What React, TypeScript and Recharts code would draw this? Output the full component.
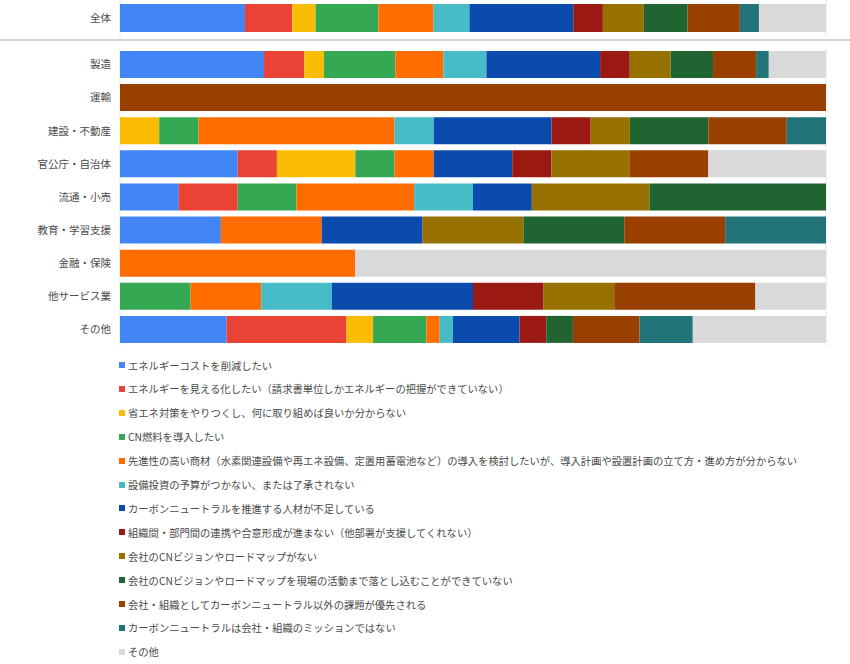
import { BarChart, Bar, XAxis, YAxis, CartesianGrid } from 'recharts'

const categories = [
  '全体',
  '製造',
  '運輸',
  '建設・不動産',
  '官公庁・自治体',
  '流通・小売',
  '教育・学習支援',
  '金融・保険',
  '他サービス業',
  'その他',
]

const seriesNames = [
  'エネルギーコストを削減したい',
  'エネルギーを見える化したい（請求書単位しかエネルギーの把握ができていない）',
  '省エネ対策をやりつくし、何に取り組めば良いか分からない',
  'CN燃料を導入したい',
  '先進性の高い商材（水素関連設備や再エネ設備、定置用蓄電池など）の導入を検討したいが、導入計画や設置計画の立て方・進め方が分からない',
  '設備投資の予算がつかない、または了承されない',
  'カーボンニュートラルを推進する人材が不足している',
  '組織間・部門間の連携や合意形成が進まない（他部署が支援してくれない）',
  '会社のCNビジョンやロードマップがない',
  '会社のCNビジョンやロードマップを現場の活動まで落とし込むことができていない',
  '会社・組織としてカーボンニュートラル以外の課題が優先される',
  'カーボンニュートラルは会社・組織のミッションではない',
  'その他',
]

const colors = [
  '#4285f4', '#ea4335', '#fbbc04', '#34a853', '#ff6d01', '#46bdc6',
  '#0b4bae', '#9a1a13', '#977100', '#1f6431', '#993f00', '#237479', '#d9d9d9',
]

// one array per series, rows in category order
const costCut = [17.7, 20.4, 0, 0, 3, 1, 1, 0, 0, 8]
const visualize = [6.7, 5.7, 0, 0, 1, 1, 0, 0, 0, 9]
const doneAll = [3.3, 2.8, 0, 1, 2, 0, 0, 0, 0, 2]
const cnFuel = [8.9, 10.1, 0, 1, 1, 1, 0, 0, 1, 4]
const advanced = [7.8, 6.8, 0, 5, 1, 2, 1, 1, 1, 1]
const budget = [5.1, 6.1, 0, 1, 0, 1, 0, 0, 1, 1]
const staff = [14.7, 16.1, 0, 3, 2, 1, 1, 0, 2, 5]
const coordination = [4.2, 4.2, 0, 1, 1, 0, 0, 0, 1, 2]
const noVision = [5.8, 5.8, 0, 1, 2, 2, 1, 0, 1, 0]
const noDeploy = [6.2, 6.0, 0, 2, 0, 3, 1, 0, 0, 2]
const otherPriority = [7.4, 6.1, 1, 2, 2, 0, 1, 0, 2, 5]
const notMission = [2.7, 1.8, 0, 1, 0, 0, 1, 0, 0, 4]
const others = [9.5, 8.1, 0, 0, 3, 0, 0, 2, 1, 10]

const seriesValues = [
  costCut, visualize, doneAll, cnFuel, advanced, budget, staff,
  coordination, noVision, noDeploy, otherPriority, notMission, others,
]

const gridTicks = [0, 0.1, 0.2, 0.3, 0.4, 0.5, 0.6, 0.7, 0.8, 0.9, 1]

const rows = categories.map((name, i) => {
  const row: Record<string, string | number> = { name }
  seriesValues.forEach((vals, s) => {
    row['s' + s] = vals[i]
  })
  return row
})

const FONT = '"Noto Sans CJK JP", "Noto Sans", sans-serif'
const textColor = '#4a4a4a'

function StackChart({ data, height, barSize }: { data: Record<string, string | number>[]; height: number; barSize: number }) {
  return (
    <BarChart
      width={850}
      height={height}
      data={data}
      layout="vertical"
      stackOffset="expand"
      margin={{ top: 0, right: 24, bottom: 0, left: 0 }}
      barCategoryGap={0}
    >
      <CartesianGrid horizontal={false} stroke="#e6e6e6" />
      <XAxis
        type="number"
        domain={[0, 1]}
        ticks={gridTicks}
        height={0}
        tick={false}
        axisLine={false}
        tickLine={false}
      />
      <YAxis
        type="category"
        dataKey="name"
        width={120}
        axisLine={false}
        tickLine={false}
        tickMargin={3}
        tick={{ fill: textColor, fontSize: 10.5, fontFamily: FONT }}
      />
      {seriesNames.map((n, s) => (
        <Bar
          key={n}
          dataKey={'s' + s}
          name={n}
          stackId="a"
          fill={colors[s]}
          barSize={barSize}
          isAnimationActive={false}
        />
      ))}
    </BarChart>
  )
}

export default function App() {
  return (
    <div style={{ position: 'absolute', left: 0, top: 0, width: 850, height: 664, background: '#fff', fontFamily: FONT }}>
      <div style={{ position: 'absolute', left: 0, top: 0 }}>
        <StackChart data={rows.slice(0, 1)} height={36} barSize={28} />
      </div>
      <div style={{ position: 'absolute', left: 0, top: 39, width: 850, height: 2, background: '#d4d4d4' }} />
      <div style={{ position: 'absolute', left: 0, top: 48 }}>
        <StackChart data={rows.slice(1)} height={298} barSize={27} />
      </div>
      {seriesNames.map((n, s) => (
        <div
          key={n}
          style={{
            position: 'absolute',
            left: 119,
            top: 365 + s * 23.9 - 8,
            height: 16,
            display: 'flex',
            alignItems: 'center',
            whiteSpace: 'nowrap',
            fontSize: 10.3,
            color: textColor,
          }}
        >
          <span style={{ display: 'inline-block', width: 6, height: 6, background: colors[s], marginRight: 3 }} />
          <span>{n}</span>
        </div>
      ))}
    </div>
  )
}
